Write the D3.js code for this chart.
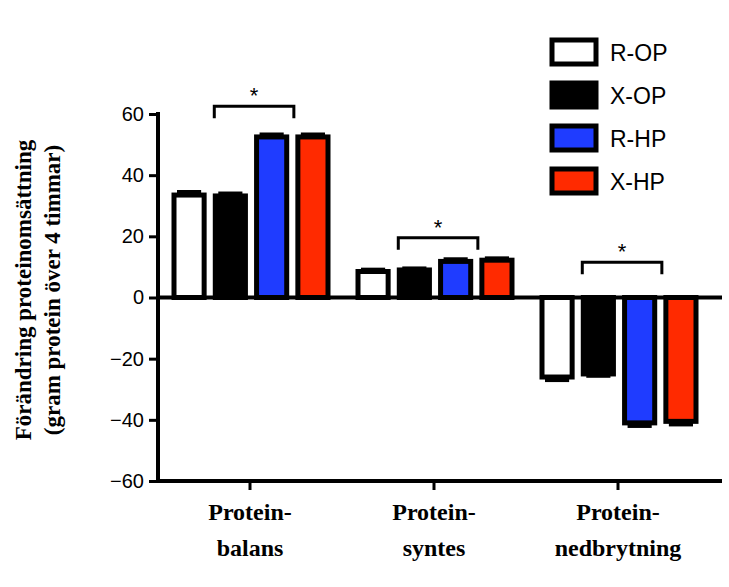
<!DOCTYPE html>
<html><head><meta charset="utf-8">
<script src="https://cdn.jsdelivr.net/npm/d3@7"></script>
<style>body{margin:0;background:#fff}</style></head>
<body><svg id="chart" width="729" height="587"></svg>
<script>
const groups = ["Protein-balans", "Protein-syntes", "Protein-nedbrytning"];
const groupLines = [["Protein-", "balans"], ["Protein-", "syntes"], ["Protein-", "nedbrytning"]];
const series = ["R-OP", "X-OP", "R-HP", "X-HP"];
const colors = ["#ffffff", "#000000", "#1f3cff", "#ff2a00"];
const values = [
  [33.5, 33.2, 52.5, 52.5],
  [8.5, 9.0, 11.8, 12.2],
  [-26, -25, -41, -40.5]
];
const errors = [
  [1, 0.8, 0.8, 0.8],
  [0.6, 0.5, 0.7, 0.6],
  [1, 0.6, 1, 1]
];
const yTicks = [60, 40, 20, 0, -20, -40, -60];
// significance brackets: bracket height in data units
const sigHeight = [62.5, 19.5, 11.5];

const svg = d3.select("#chart");
const y = d3.scaleLinear().domain([-60, 60]).range([481, 114]);
const x0 = d3.scaleBand().domain(groups).range([158, 710]);
const x1 = d3.scaleBand().domain(series).range([-76, 78]).paddingInner(0.27);

groups.forEach((g, gi) => {
  const gg = svg.append("g").attr("transform", `translate(${x0(g) + x0.bandwidth() / 2},0)`);
  series.forEach((s, si) => {
    const v = values[gi][si], e = errors[gi][si];
    const bx = x1(s), bw = x1.bandwidth();
    const top = y(Math.max(0, v)), bot = y(Math.min(0, v));
    gg.append("rect").attr("x", bx).attr("y", top).attr("width", bw).attr("height", bot - top)
      .attr("fill", colors[si]).attr("stroke", "#000").attr("stroke-width", 5);
    const ye = y(v + (v >= 0 ? e : -e));
    gg.append("line").attr("x1", bx + 3).attr("x2", bx + bw - 3).attr("y1", ye).attr("y2", ye)
      .attr("stroke", "#000").attr("stroke-width", 4);
  });
  const xa = x1("X-OP") - 1, xb = x1("X-HP") - 4;
  const yb = y(sigHeight[gi]);
  gg.append("path").attr("d", `M${xa},${yb + 12}V${yb}H${xb}V${yb + 12}`)
    .attr("fill", "none").attr("stroke", "#000").attr("stroke-width", 3);
  gg.append("text").attr("x", (xa + xb) / 2).attr("y", yb - 3).attr("text-anchor", "middle")
    .style("font-family", "Liberation Sans, Arial").style("font-size", "22px").text("*");
});

svg.append("line").attr("x1", 156).attr("x2", 722).attr("y1", y(0)).attr("y2", y(0))
  .attr("stroke", "#000").attr("stroke-width", 4);
const xAxis = svg.append("g").attr("transform", `translate(0,${y(-60)})`)
  .call(d3.axisBottom(x0).tickSize(9).tickFormat(""));
xAxis.select(".domain").attr("d", "M156,0H722").attr("stroke-width", 4);
xAxis.selectAll(".tick line").attr("stroke-width", 3);
groups.forEach((g, gi) => {
  const cx = x0(g) + x0.bandwidth() / 2;
  const t = svg.append("text").attr("x", cx).attr("y", 520).attr("text-anchor", "middle")
    .style("font-family", "Liberation Serif, serif").style("font-weight", "bold").style("font-size", "24px");
  groupLines[gi].forEach((l, li) => t.append("tspan").attr("x", cx).attr("dy", li ? 36 : 0).text(l));
});

const yAxis = svg.append("g").attr("transform", "translate(158,0)")
  .call(d3.axisLeft(y).tickValues(yTicks).tickSize(9).tickPadding(5));
yAxis.select(".domain").attr("d", "M0,112V483").attr("stroke-width", 4);
yAxis.selectAll(".tick line").attr("stroke-width", 3);
yAxis.selectAll("text").style("font-family", "Liberation Sans, Arial").style("font-size", "20px");

[["Förändring proteinomsättning", 31], ["(gram protein över 4 timmar)", 60]].forEach(([txt, xx]) =>
  svg.append("text").attr("transform", `translate(${xx},290) rotate(-90)`).attr("text-anchor", "middle")
    .style("font-family", "Liberation Serif, serif").style("font-weight", "bold").style("font-size", "23px")
    .text(txt));

const lg = svg.append("g").attr("transform", "translate(552,40)");
series.forEach((s, i) => {
  lg.append("rect").attr("x", 0).attr("y", i * 43).attr("width", 44).attr("height", 24)
    .attr("fill", colors[i]).attr("stroke", "#000").attr("stroke-width", 5);
  lg.append("text").attr("x", 58).attr("y", i * 43 + 21)
    .style("font-family", "Liberation Sans, Arial").style("font-size", "23px").text(s);
});
</script></body></html>
